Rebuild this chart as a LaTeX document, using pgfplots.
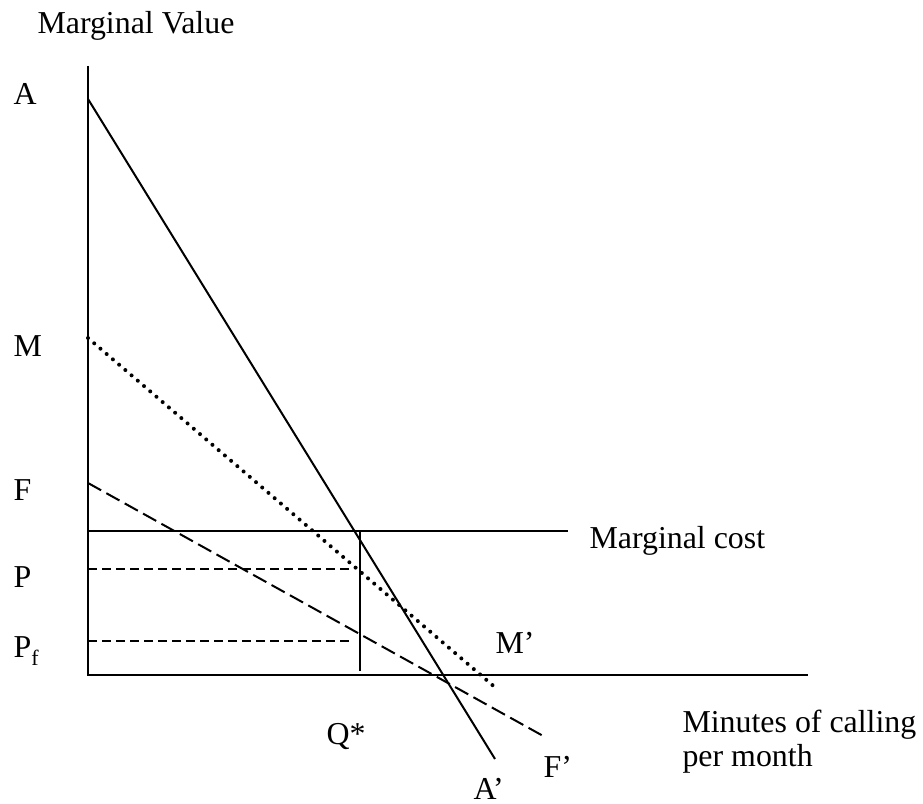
\documentclass[border=0pt]{standalone}
\usepackage{fontspec}
\setmainfont{Liberation Serif}
\usepackage{pgfplots}
\pgfplotsset{compat=1.18}
\begin{document}%
\begin{tikzpicture}[font=\fontsize{32}{38}\selectfont]
\begin{axis}[
  width=923bp, height=804bp, scale only axis,
  xmin=-88, xmax=835, ymin=-129, ymax=675,
  hide axis, clip=false,
  every node/.style={font=\fontsize{32}{38}\selectfont, inner sep=0pt},
]
\path (rel axis cs:0,0) rectangle (rel axis cs:1,1);
% axes
\addplot[black, line width=2bp] coordinates {(0,609) (0,0) (720,0)};
% A line
\addplot[black, line width=2bp] coordinates {(0,576) (407,-84)};
% M dotted
\addplot[black, line width=4bp, line cap=round, dash pattern=on 0bp off 8.2bp] coordinates {(0,337) (409,-14)};
% F dashed
\addplot[black, line width=2bp, dash pattern=on 15bp off 6bp] coordinates {(0,192) (457,-62)};
% marginal cost
\addplot[black, line width=2bp] coordinates {(0,144) (480,144)};
% P and Pf
\addplot[black, line width=2bp, dash pattern=on 9bp off 5bp] coordinates {(0,106) (265,106)};
\addplot[black, line width=2bp, dash pattern=on 9bp off 5bp] coordinates {(0,34) (265,34)};
% Q*
\addplot[black, line width=2bp] coordinates {(272,144) (272,4)};
% labels
\node[anchor=base west] at (axis cs:-54,641) {Marginal Value};
\node[anchor=base west] at (axis cs:-78,570) {A};
\node[anchor=base west] at (axis cs:-78,318) {M};
\node[anchor=base west] at (axis cs:-78,174) {F};
\node[anchor=base west] at (axis cs:-78,87) {P};
\node[anchor=base west] at (axis cs:-78,17) {P\raisebox{-0.22em}{\fontsize{22}{26}\selectfont f}};
\node[anchor=base west] at (axis cs:404,21) {M’};
\node[anchor=base west] at (axis cs:235,-70) {Q*};
\node[anchor=base west] at (axis cs:452,-102) {F’};
\node[anchor=base west] at (axis cs:382,-124) {A’};
\node[anchor=base west] at (axis cs:498,126) {Marginal cost};
\node[anchor=base west] at (axis cs:591,-58) {Minutes of calling};
\node[anchor=base west] at (axis cs:591,-92) {per month};
\end{axis}
\end{tikzpicture}%
\end{document}
